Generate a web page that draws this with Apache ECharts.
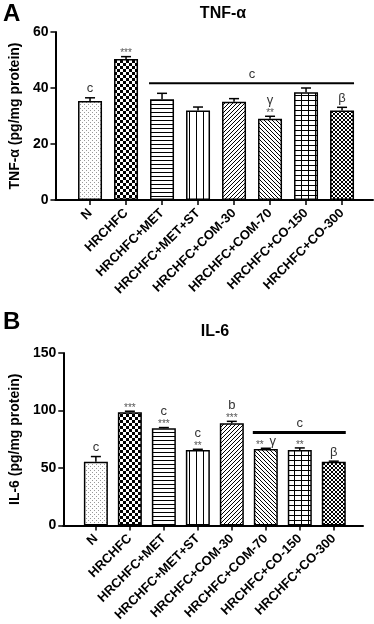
<!DOCTYPE html>
<html>
<head>
<meta charset="utf-8">
<script src="https://cdn.jsdelivr.net/npm/echarts@6/dist/echarts.min.js"></script>
<style>
  html, body { margin: 0; padding: 0; background: #fff; }
  #chart { width: 374px; height: 624px; }
</style>
</head>
<body>
<div id="chart"></div>
<script>
const groups = ['N', 'HRCHFC', 'HRCHFC+MET', 'HRCHFC+MET+ST', 'HRCHFC+COM-30', 'HRCHFC+COM-70', 'HRCHFC+CO-150', 'HRCHFC+CO-300'];

// A: TNF-α (pg/mg protein)
const tnfMean = [35.4, 50.4, 36.0, 32.0, 35.1, 29.0, 38.5, 32.0];
const tnfErr = [1.1, 0.8, 2.1, 1.2, 1.1, 0.9, 1.5, 1.1];
const tnfStars = ['', '***', '', '', '', '**', '', ''];
const tnfLetters = ['c', '', '', '', '', 'γ', '', 'β'];
const tnfBracket = [2, 7, 41.7, 'c']; // first group, last group, level, letter

// B: IL-6 (pg/mg protein)
const ilMean = [55.5, 98.6, 84.6, 65.7, 88.9, 66.6, 65.7, 55.5];
const ilErr = [4.5, 0.8, 0.6, 0.6, 1.7, 0.6, 1.8, 0.5];
const ilStars = ['', '***', '***', '**', '***', '**', '**', ''];
const ilLetters = ['c', '', 'c', 'c', 'b', 'γ', '', 'β'];
const ilLetterBeside = [5]; // letter sits next to the stars, not above
const ilBracket = [5, 7, 80.9, 'c'];

const FONT = '"Liberation Sans", Arial, sans-serif';

// hatch fills
function makePattern(w, h, draw) {
  const c = document.createElement('canvas');
  c.width = w;
  c.height = h;
  const ctx = c.getContext('2d');
  ctx.fillStyle = '#fff';
  ctx.fillRect(0, 0, w, h);
  ctx.fillStyle = '#000';
  draw(ctx);
  return { image: c, repeat: 'repeat' };
}
const patterns = [
  makePattern(4, 4, (ctx) => { ctx.fillStyle = '#999'; ctx.fillRect(0, 0, 1, 1); ctx.fillRect(2, 2, 1, 1); }),
  makePattern(6, 6, (ctx) => { ctx.fillRect(0, 0, 3, 3); ctx.fillRect(3, 3, 3, 3); }),
  makePattern(4, 4, (ctx) => ctx.fillRect(0, 0, 4, 1)),
  makePattern(7, 4, (ctx) => ctx.fillRect(0, 0, 1, 4)),
  makePattern(4, 4, (ctx) => { for (let k = 0; k < 4; k++) ctx.fillRect(3 - k, k, 1, 1); }),
  makePattern(4, 4, (ctx) => { for (let k = 0; k < 4; k++) ctx.fillRect(k, k, 1, 1); }),
  makePattern(7, 5, (ctx) => { ctx.fillRect(0, 0, 7, 1); ctx.fillRect(0, 0, 1, 5); }),
  makePattern(4, 4, (ctx) => { for (let k = 0; k < 4; k++) { ctx.fillRect(k, k, 1, 1); ctx.fillRect(3 - k, k, 1, 1); } }),
];

function textEl(x, y, text, size, color) {
  return {
    type: 'text',
    style: {
      x, y, text, fill: color, font: size + 'px ' + FONT,
      align: 'center', verticalAlign: 'middle', textAlign: 'center', textVerticalAlign: 'middle',
    },
  };
}

function barSeries(gi, mean) {
  return {
    type: 'bar',
    xAxisIndex: gi,
    yAxisIndex: gi,
    barWidth: 24,
    data: mean.map((m, i) => ({
      value: [i, m],
      itemStyle: { color: patterns[i], borderColor: '#000', borderWidth: 1.5 },
    })),
  };
}

// error caps + significance marks
function errorSeries(gi, mean, err, stars, letters, beside) {
  return {
    type: 'custom',
    xAxisIndex: gi,
    yAxisIndex: gi,
    z: 5,
    data: mean.map((m, i) => [i, m, m + err[i]]),
    encode: { x: 0, y: [1, 2] },
    renderItem(params, api) {
      const i = api.value(0);
      const p0 = api.coord([i, api.value(1)]);
      const p1 = api.coord([i, api.value(2)]);
      const line = { stroke: '#000', lineWidth: 1.5 };
      const children = [
        { type: 'line', shape: { x1: p0[0], y1: p0[1], x2: p1[0], y2: p1[1] }, style: line },
        { type: 'line', shape: { x1: p1[0] - 5, y1: p1[1], x2: p1[0] + 5, y2: p1[1] }, style: line },
      ];
      let y = p1[1];
      const isBeside = beside && beside.indexOf(i) >= 0;
      if (stars[i]) {
        children.push(textEl(isBeside ? p1[0] - 6 : p1[0], y - 3, stars[i], 10, '#555'));
        if (!isBeside) y -= 7;
      }
      if (letters[i]) {
        if (isBeside) children.push(textEl(p1[0] + 7, y - 7, letters[i], 13, '#333'));
        else children.push(textEl(p1[0], y - 9, letters[i], 13, '#333'));
      }
      return { type: 'group', children };
    },
  };
}

function bracketSeries(gi, br, thick) {
  return {
    type: 'custom',
    xAxisIndex: gi,
    yAxisIndex: gi,
    z: 5,
    data: [[br[0], br[1], br[2]]],
    encode: { x: [0, 1], y: 2 },
    renderItem(params, api) {
      const a = api.coord([api.value(0), api.value(2)]);
      const b = api.coord([api.value(1), api.value(2)]);
      return {
        type: 'group',
        children: [
          { type: 'line', shape: { x1: a[0] - 13, y1: a[1], x2: b[0] + 12, y2: b[1] }, style: { stroke: '#000', lineWidth: thick } },
          textEl((a[0] + b[0]) / 2, a[1] - 9, br[3], 13, '#333'),
        ],
      };
    },
  };
}

function xAxisCfg(gi) {
  const idx = groups.map((g, i) => i);
  return {
    type: 'value',
    gridIndex: gi,
    min: -0.96,
    max: 7.86,
    axisLine: { show: true, lineStyle: { color: '#000', width: 2 } },
    axisTick: { show: true, customValues: idx, length: 5, lineStyle: { color: '#000', width: 1.5 } },
    axisLabel: {
      customValues: idx,
      formatter: (v) => groups[v],
      rotate: 45,
      margin: 11,
      fontSize: 13,
      fontWeight: 'bold',
      color: '#000',
      fontFamily: FONT,
    },
    splitLine: { show: false },
  };
}

function yAxisCfg(gi, max, interval, name) {
  return {
    type: 'value',
    gridIndex: gi,
    min: 0,
    max,
    interval,
    name,
    nameLocation: 'middle',
    nameGap: 30,
    nameTextStyle: { fontSize: 14, fontWeight: 'bold', color: '#000', fontFamily: FONT },
    axisLine: { show: true, onZero: false, lineStyle: { color: '#000', width: 2 } },
    axisTick: { show: true, length: 5, lineStyle: { color: '#000', width: 1.5 } },
    axisLabel: { fontSize: 14, fontWeight: 'bold', color: '#000', fontFamily: FONT, margin: 7 },
    splitLine: { show: false },
  };
}

const chart = echarts.init(document.getElementById('chart'));
chart.setOption({
  animation: false,
  backgroundColor: '#fff',
  title: [
    { text: 'A', left: -2, top: -3, textStyle: { fontSize: 24, fontWeight: 'bold', color: '#000', fontFamily: FONT } },
    { text: 'TNF-α', left: 218, top: 1, textAlign: 'center', textStyle: { fontSize: 16, fontWeight: 'bold', color: '#000', fontFamily: FONT } },
    { text: 'B', left: -2, top: 305, textStyle: { fontSize: 24, fontWeight: 'bold', color: '#000', fontFamily: FONT } },
    { text: 'IL-6', left: 210, top: 319, textAlign: 'center', textStyle: { fontSize: 16, fontWeight: 'bold', color: '#000', fontFamily: FONT } },
  ],
  grid: [
    { left: 52, right: 1, top: 32, bottom: 424 },
    { left: 53, right: 11, top: 353, bottom: 96 },
  ],
  xAxis: [xAxisCfg(0), xAxisCfg(1)],
  yAxis: [
    yAxisCfg(0, 60, 20, 'TNF-α (pg/mg protein)'),
    yAxisCfg(1, 150, 50, 'IL-6 (pg/mg protein)'),
  ],
  series: [
    barSeries(0, tnfMean),
    errorSeries(0, tnfMean, tnfErr, tnfStars, tnfLetters, null),
    bracketSeries(0, tnfBracket, 2),
    barSeries(1, ilMean),
    errorSeries(1, ilMean, ilErr, ilStars, ilLetters, ilLetterBeside),
    bracketSeries(1, ilBracket, 3),
  ],
});
</script>
</body>
</html>
